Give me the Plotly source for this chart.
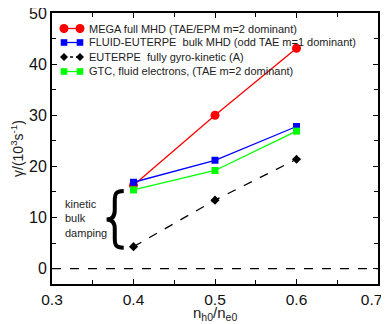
import plotly.graph_objects as go

x_vals = [0.4, 0.5, 0.6]
mega = [16.3, 30.0, 43.1]
fluid = [16.9, 21.2, 27.8]
euterpe = [4.3, 13.4, 21.4]
gtc = [15.4, 19.2, 26.9]

x_ticks = [0.3, 0.4, 0.5, 0.6, 0.7]
x_ticklabels = ["0.3", "0.4", "0.5", "0.6", "0.7"]
y_ticks = [0, 10, 20, 30, 40, 50]

names = [
    "MEGA full MHD (TAE/EPM m=2 dominant)",
    "FLUID-EUTERPE  bulk MHD (odd TAE m=1 dominant)",
    "EUTERPE  fully gyro-kinetic (A)",
    "GTC, fluid electrons, (TAE m=2 dominant)",
]
colors = ["#ff0000", "#0000ff", "#000000", "#00ff00"]
symbols = ["circle", "square", "diamond", "square"]
dashes = ["solid", "solid", "dash", "solid"]
series = [mega, fluid, euterpe, gtc]
sizes = [9, 7, 7, 7]

FONT = "Liberation Sans, Arial"
OFF = 8  # page body margin
PL, PT, PR, PB = 52, 13, 378, 284  # plot box in screenshot pixels
W, H = 389 - OFF, 324 - OFF
L, T = PL - OFF, PT - OFF
R, B = W - (PR - OFF), H - (PB - OFF)
PW, PH = PR - PL, PB - PT

fig = go.Figure()
for nm, ys, c, s, d, sz in zip(names, series, colors, symbols, dashes, sizes):
    fig.add_trace(go.Scatter(x=x_vals, y=ys, name=nm, mode="lines+markers",
                             line=dict(color=c, width=1.3, dash=d),
                             marker=dict(symbol=s, size=sz, color=c),
                             showlegend=False))

# zero line
fig.add_shape(type="line", xref="paper", x0=0, x1=1, yref="y", y0=0, y1=0,
              line=dict(color="black", width=1.3, dash="dash"))

# manual legend (pixel-positioned keys)
def px(v):
    return (v - PL) / PW

def py(v):
    return 1 - (v - PT) / PH

rows = [28.5, 42.5, 57, 71.5]
for nm, c, s, d, sz, ry in zip(names, colors, symbols, dashes, sizes, rows):
    fig.add_shape(type="line", xref="paper", yref="paper", x0=px(64), x1=px(80),
                  y0=py(ry), y1=py(ry), line=dict(color=c, width=1.3, dash="dot" if d == "dash" else "solid"))
    for cx in (64, 80):
        h = sz / 2
        if s == "circle":
            fig.add_shape(type="circle", xref="paper", yref="paper",
                          xsizemode="pixel", ysizemode="pixel", xanchor=px(cx), yanchor=py(ry),
                          x0=-h, x1=h, y0=-h, y1=h, fillcolor=c, line=dict(color=c, width=0))
        elif s == "square":
            fig.add_shape(type="rect", xref="paper", yref="paper",
                          xsizemode="pixel", ysizemode="pixel", xanchor=px(cx), yanchor=py(ry),
                          x0=-3.3, x1=3.3, y0=-3.3, y1=3.3, fillcolor=c, line=dict(color=c, width=0))
        else:
            fig.add_shape(type="path", xref="paper", yref="paper",
                          xsizemode="pixel", ysizemode="pixel", xanchor=px(cx), yanchor=py(ry),
                          path="M -4,0 L 0,4 L 4,0 L 0,-4 Z", fillcolor=c, line=dict(color=c, width=0))
    fig.add_annotation(x=px(88), y=py(ry), xref="paper", yref="paper", xanchor="left",
                       yanchor="middle", text=nm, showarrow=False,
                       font=dict(size=11, color="#222222", family=FONT), borderpad=0)

# brace
brace = ("M 0.388,15.2 C 0.378,15.2 0.377,14.6 0.377,13.2 L 0.377,11.4 "
         "C 0.377,10.1 0.373,9.6 0.367,9.6 C 0.373,9.6 0.377,9.1 0.377,7.8 "
         "L 0.377,6.0 C 0.377,4.6 0.378,4.1 0.388,4.1")
fig.add_shape(type="path", path=brace, xref="x", yref="y",
              line=dict(color="black", width=4))

fig.add_annotation(x=0.315, y=9.8, xref="x", yref="y", xanchor="left", yanchor="middle",
                   text="kinetic<br>bulk<br>damping", showarrow=False, align="left",
                   font=dict(size=11, color="#222222", family=FONT), borderpad=0)

# x-axis title placed as paper annotation for exact position
fig.add_annotation(x=0.5, y=py(324), xref="paper", yref="paper", xanchor="center",
                   yanchor="bottom", text="n<sub>h0</sub>/n<sub>e0</sub>", showarrow=False,
                   font=dict(size=15, color="#222222", family=FONT), borderpad=0)

axis_common = dict(showline=True, linecolor="black", linewidth=2, mirror="ticks",
                   ticks="inside", ticklen=5, tickwidth=1.2, tickcolor="black",
                   showgrid=False, zeroline=False, automargin=False,
                   ticklabeloverflow="allow")

# last label padded with no-break spaces so it sits inside the page like the reference
x_ticktext = x_ticklabels[:-1] + [x_ticklabels[-1] + "\u00a0\u00a0\u00a0"]

fig.update_xaxes(range=[0.3, 0.7],
                 tickvals=x_ticks, ticktext=x_ticktext,
                 tickfont=dict(size=15.5, color="#111111", family=FONT),
                 minor=dict(dtick=0.05, tick0=0.3, ticks="inside", ticklen=4, tickcolor="black", tickwidth=1.2),
                 **axis_common)
fig.update_yaxes(range=[-3, 50], tickvals=y_ticks,
                 tickfont=dict(size=16, color="#111111", family=FONT),
                 minor=dict(dtick=5, tick0=0, ticks="inside", ticklen=4, tickcolor="black", tickwidth=1.2),
                 title=dict(text="γ/(10<sup>3</sup>s<sup>-1</sup>)",
                            font=dict(size=14, color="#222222", family=FONT)),
                 **axis_common)

fig.update_layout(
    width=W, height=H,
    margin=dict(l=L, r=R, t=T, b=B),
    paper_bgcolor="white", plot_bgcolor="white",
    font=dict(family=FONT, color="black"),
    showlegend=False,
)

fig.write_html("out.html")
